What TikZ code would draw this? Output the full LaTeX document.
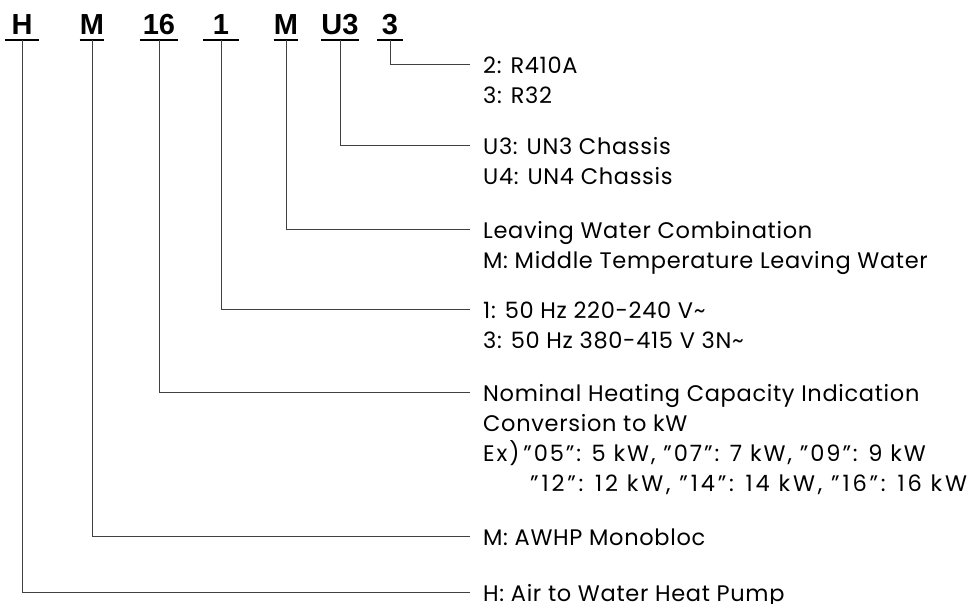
\documentclass[tikz,border=0pt]{standalone}
\usepackage{fontspec}
\setmainfont{Poppins}[LetterSpace=3]
\newfontfamily\codefont{Liberation Sans}
\newfontfamily\widefont{Poppins}[LetterSpace=8.5]
\newfontfamily\widerfont{Poppins}[LetterSpace=12.5]
\usetikzlibrary{positioning}

\begin{document}
\begin{tikzpicture}[x=1pt, y={(0,-1pt)},
  code/.style={font=\codefont\bfseries\fontsize{29}{29}\selectfont, anchor=south, inner xsep=0pt, inner ysep=5pt, text depth=0pt, text height=21pt},
  uline/.style={line width=1.8pt},
  lead/.style={draw=black!75, line width=0.8pt},
  desc/.style={anchor=west, inner xsep=13pt, inner ysep=0pt, text height=18pt, text depth=0pt, font=\fontsize{22.5}{27}\selectfont}]
  \useasboundingbox (0,0) rectangle (978,603);

  % model code
  \node[code, minimum width=34pt] (cH) at (22,40) {H};
  \node[code, minimum width=22pt] (cM) at (92,40) {M};
  \node[code, minimum width=38pt] (cCap) at (159,40) {16};
  \node[code, minimum width=35pt] (cVolt) at (221,40) {1};
  \node[code, minimum width=23pt] (cWater) at (286,40) {M};
  \node[code, minimum width=36pt] (cChassis) at (340,40) {U3};
  \node[code, minimum width=25pt] (cRef) at (390,40) {3};
  \foreach \n in {cH, cM, cCap, cVolt, cWater, cChassis, cRef}
    \draw[uline] (\n.south west) -- (\n.south east);

  % descriptions
  \node[desc] (dRef) at (470,64) {2: R410A};
  \node[desc] at (470,94) {3: R32};
  \node[desc] (dChassis) at (470,145) {U3: UN3 Chassis};
  \node[desc] at (470,175) {U4: UN4 Chassis};
  \node[desc] (dWater) at (470,229) {Leaving Water Combination};
  \node[desc] at (470,259) {M: Middle Temperature Leaving Water};
  \node[desc] (dVolt) at (470,309) {1: 50 Hz 220-240 V\textasciitilde};
  \node[desc] at (470,339) {3: 50 Hz 380-415 V 3N\textasciitilde};
  \node[desc] (dCap) at (470,392) {Nominal Heating Capacity Indication};
  \node[desc] at (470,422) {Conversion to kW};
  \node[desc] at (470,452) {\widefont Ex)\,”05”: 5 kW, ”07”: 7 kW, ”09”: 9 kW};
  \node[desc] at (470,482) {\widerfont\hspace*{47pt}”12”: 12 kW, ”14”: 14 kW, ”16”: 16 kW};
  \node[desc] (dM) at (470,536) {M: AWHP Monobloc};
  \node[desc] (dH) at (470,592) {H: Air to Water Heat Pump};

  % leaders
  \draw[lead] (cRef.south) |- (dRef.west);
  \draw[lead] (cChassis.south) |- (dChassis.west);
  \draw[lead] (cWater.south) |- (dWater.west);
  \draw[lead] (cVolt.south) |- (dVolt.west);
  \draw[lead] (cCap.south) |- (dCap.west);
  \draw[lead] (cM.south) |- (dM.west);
  \draw[lead] (cH.south) |- (dH.west);
\end{tikzpicture}
\end{document}
